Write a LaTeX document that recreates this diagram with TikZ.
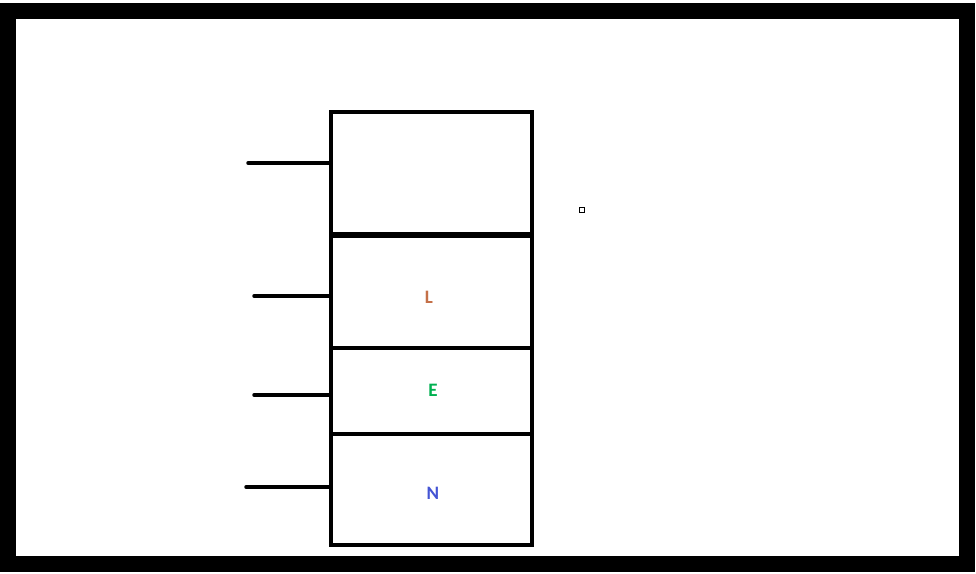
\documentclass[tikz,border=0pt]{standalone}
\usepackage{fontspec}
\setmainfont{Carlito}
\usetikzlibrary{positioning}
\definecolor{lcol}{RGB}{196,112,72}
\definecolor{ecol}{RGB}{0,176,80}
\definecolor{ncol}{RGB}{68,84,212}
\tikzset{
  slot/.style={draw, line width=4pt, minimum width=201pt, inner sep=0pt, outer sep=0pt},
  stub/.style={line width=3.5pt, line cap=round},
  tag/.style={font=\bfseries\fontsize{19}{19}\selectfont}
}
\begin{document}
\begin{tikzpicture}[x=1pt, y=-1pt]

\useasboundingbox (0,0) rectangle (976,573);
\draw[line width=16pt] (8,11) rectangle (967,564);

\node[slot, minimum height=122pt, anchor=north west] (top-box) at (331,112) {};
\node[slot, minimum height=112pt, anchor=north west] (l-box) at (331,236) {};
\node[slot, minimum height=86pt, anchor=north west] (e-box) at (331,348) {};
\node[slot, minimum height=111pt, anchor=north west] (n-box) at (331,434) {};

\node[tag, text=lcol] (l-label) at (429,297) {L};
\node[tag, text=ecol] (e-label) at (433,390) {E};
\node[tag, text=ncol] (n-label) at (433,493) {N};

\coordinate (stub-a) at (248,163);
\coordinate (stub-b) at (254,296);
\coordinate (stub-c) at (254,395);
\coordinate (stub-d) at (246,487);

\draw[stub] (stub-a) -- (stub-a -| top-box.west);
\draw[stub] (stub-b) -- (stub-b -| l-box.west);
\draw[stub] (stub-c) -- (stub-c -| e-box.west);
\draw[stub] (stub-d) -- (stub-d -| n-box.west);

\node[draw, line width=1.2pt, minimum size=5pt, inner sep=0pt] (dot) at (582,210) {};

\end{tikzpicture}
\end{document}
